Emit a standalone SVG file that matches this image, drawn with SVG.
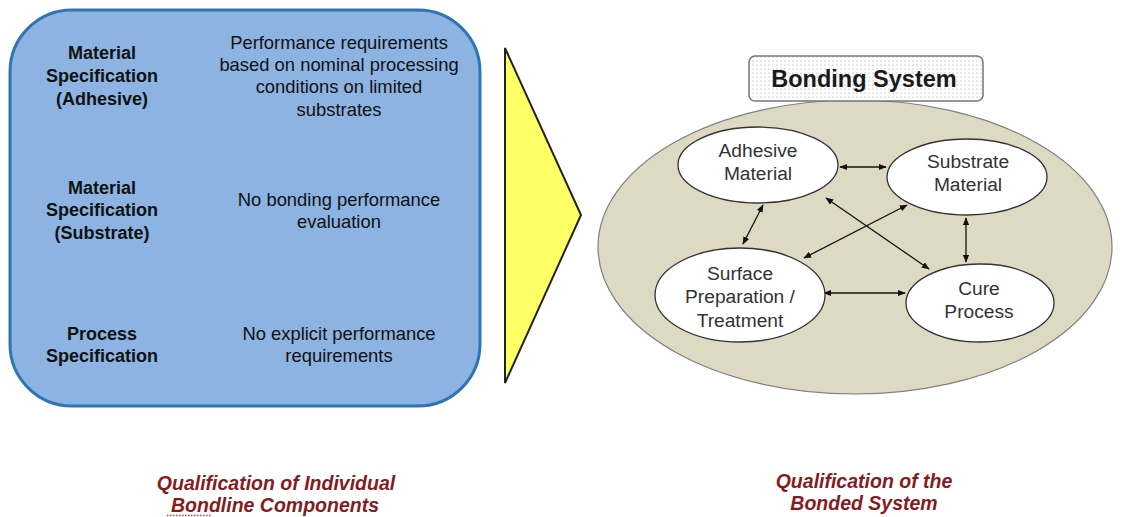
<svg xmlns="http://www.w3.org/2000/svg" width="1130" height="517" viewBox="0 0 1130 517">
<defs>
<pattern id="dots" width="4" height="4" patternUnits="userSpaceOnUse"><rect width="4" height="4" fill="#fff"/><circle cx="1" cy="1" r="0.6" fill="#999"/></pattern>
<marker id="ah" viewBox="0 0 10 10" refX="9" refY="5" markerWidth="8" markerHeight="8" markerUnits="userSpaceOnUse" orient="auto-start-reverse"><path d="M0,1 L10,5 L0,9 Z" fill="#111"/></marker>
<style>
.lbl{font-family:"Liberation Sans",Arial,sans-serif;font-size:18px;font-weight:bold;fill:#111;text-anchor:middle}
.desc{font-family:"Liberation Sans",Arial,sans-serif;font-size:18.4px;fill:#111;text-anchor:middle}
.node{fill:#fff;stroke:#333;stroke-width:1.3}
.nt{font-family:"Liberation Sans",Arial,sans-serif;font-size:19.2px;fill:#333;text-anchor:middle}
.cap{font-family:"Liberation Sans",Arial,sans-serif;font-size:19.5px;font-weight:bold;font-style:italic;fill:#861B1E;text-anchor:middle}
.conn line{stroke:#111;stroke-width:1.3;marker-start:url(#ah);marker-end:url(#ah)}
</style>
</defs>
<rect width="1130" height="517" fill="#fff"/>

<g id="individual-panel">
<rect x="10" y="10" width="470" height="396" rx="62" fill="#8DB3E2" stroke="#2E75B6" stroke-width="3"/>
<g id="adhesive-spec">
<text class="lbl" x="102" y="59">Material</text>
<text class="lbl" x="102" y="82">Specification</text>
<text class="lbl" x="102" y="105">(Adhesive)</text>
<text class="desc" x="339" y="49">Performance requirements</text>
<text class="desc" x="339" y="71">based on nominal processing</text>
<text class="desc" x="339" y="93">conditions on limited</text>
<text class="desc" x="339" y="116">substrates</text>
</g>
<g id="substrate-spec">
<text class="lbl" x="102" y="194">Material</text>
<text class="lbl" x="102" y="216">Specification</text>
<text class="lbl" x="102" y="239">(Substrate)</text>
<text class="desc" x="339" y="206">No bonding performance</text>
<text class="desc" x="339" y="228">evaluation</text>
</g>
<g id="process-spec">
<text class="lbl" x="102" y="340">Process</text>
<text class="lbl" x="102" y="362">Specification</text>
<text class="desc" x="339" y="340">No explicit performance</text>
<text class="desc" x="339" y="362">requirements</text>
</g>
</g>

<g id="big-arrow">
<polygon points="505,48 581,215 505,383" fill="#FFFF66" stroke="#222" stroke-width="2"/>
</g>

<g id="bonded-system">
<ellipse cx="855" cy="247" rx="257" ry="147" fill="#DDD9C3" stroke="#808080" stroke-width="1.2"/>
</g>

<g id="bonding-system-title">
<rect x="749" y="56" width="234" height="45" rx="6" fill="url(#dots)" stroke="#777" stroke-width="1.5"/>
<text x="864" y="87" font-family="'Liberation Sans',Arial,sans-serif" font-size="23.5" font-weight="bold" fill="#1a1a1a" text-anchor="middle">Bonding System</text>
</g>

<g id="connectors" class="conn">
<line x1="840" y1="167" x2="886" y2="167"/>
<line x1="763" y1="205" x2="743" y2="244"/>
<line x1="826" y1="198" x2="929" y2="269"/>
<line x1="907" y1="205" x2="804" y2="258"/>
<line x1="966" y1="218" x2="966" y2="262"/>
<line x1="824" y1="293" x2="905" y2="293"/>
</g>

<g id="adhesive-material">
<ellipse class="node" cx="758" cy="165" rx="80" ry="38"/>
<text class="nt" x="758" y="157">Adhesive</text>
<text class="nt" x="758" y="180">Material</text>
</g>
<g id="substrate-material">
<ellipse class="node" cx="967" cy="177" rx="80" ry="38"/>
<text class="nt" x="968" y="168">Substrate</text>
<text class="nt" x="968" y="191">Material</text>
</g>
<g id="surface-preparation">
<ellipse class="node" cx="740" cy="295" rx="85" ry="47"/>
<text class="nt" x="740" y="280">Surface</text>
<text class="nt" x="740" y="303">Preparation /</text>
<text class="nt" x="740" y="327">Treatment</text>
</g>
<g id="cure-process">
<ellipse class="node" cx="980" cy="303" rx="74" ry="39"/>
<text class="nt" x="979" y="295">Cure</text>
<text class="nt" x="979" y="318">Process</text>
</g>

<g id="captions">
<text class="cap" x="276" y="490">Qualification of Individual</text>
<text class="cap" x="275" y="512">Bondline Components</text>
<line x1="167" y1="515.5" x2="212" y2="515.5" stroke="#E03030" stroke-width="1.3" stroke-dasharray="1.5,1.5"/>
<text class="cap" x="864" y="488">Qualification of the</text>
<text class="cap" x="864" y="510">Bonded System</text>
</g>
</svg>
